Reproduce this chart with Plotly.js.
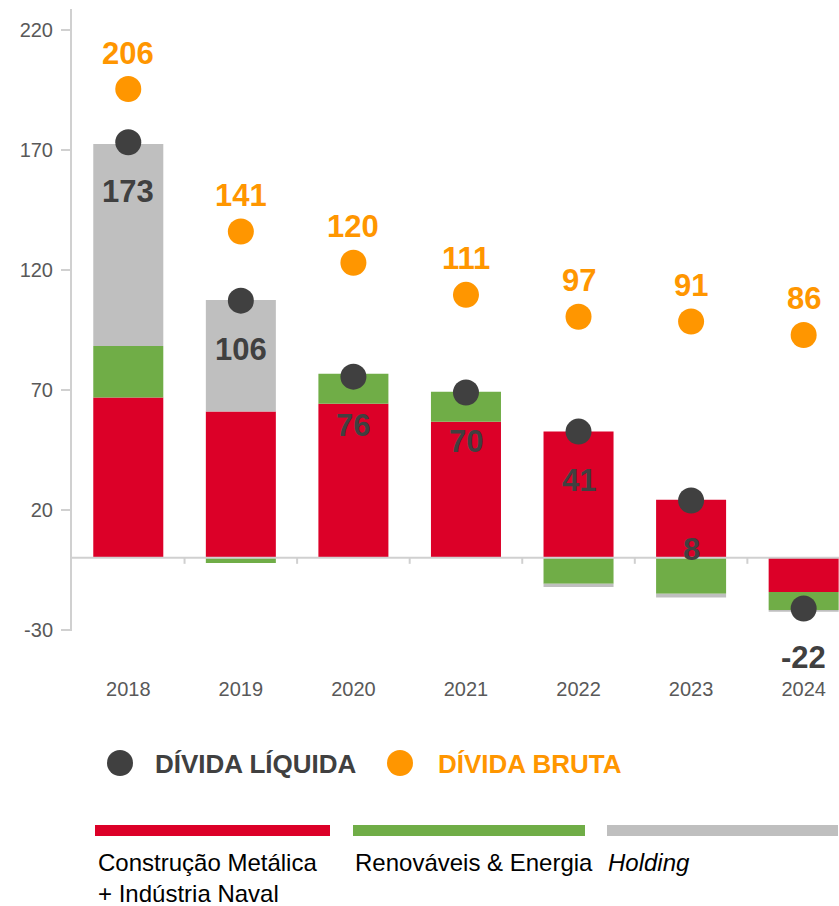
<!DOCTYPE html>
<html>
<head>
<meta charset="utf-8">
<script src="https://cdn.plot.ly/plotly-3.0.1.min.js"></script>
<style>
html,body{margin:0;padding:0;background:#fff;overflow:hidden;}
#chart{width:839px;height:906px;}
</style>
</head>
<body>
<div id="chart"></div>
<script>
// ---- data ----
const years = ['2018', '2019', '2020', '2021', '2022', '2023', '2024'];
const construcaoNaval = [66.8, 61, 64.2, 56.7, 52.6, 24.2, -14.2];
const renovaveisEnergia = [21.5, -2.2, 12.5, 12.5, -10.8, -15, -7.5];
const holdingValues = [84.2, 46.5, 0, 0, -1.4, -1.5, -0.8];
const netDebtLabels = [173, 106, 76, 70, 41, 8, -22];
const netDebtMarkers = [173.2, 107.2, 75.5, 68.9, 52.6, 23.9, -21.1];
const grossDebtLabels = [206, 141, 120, 111, 97, 91, 86];
const grossDebtMarkers = [195.4, 136, 123, 109.6, 100.5, 98.5, 92.9];
const yTicks = [220, 170, 120, 70, 20, -30];
const seriesNames = ['Construção Metálica<br>+ Indústria Naval', 'Renováveis & Energia', '<i>Holding</i>'];
const pointNames = ['DÍVIDA LÍQUIDA', 'DÍVIDA BRUTA'];

// ---- styles ----
const RED = '#DC0028', GREEN = '#70AD47', GRAY = '#BFBFBF', DARK = '#404040', ORANGE = '#FF9600';
const FONT = 'Liberation Sans, Arial, sans-serif';
const W = 839, H = 906, ML = 72, MR = 0, MT = 9, MB = 275;
const PW = W - ML - MR, PH = H - MT - MB;
const px = x => (x - ML) / PW;
const py = y => (H - MB - y) / PH;

const barTrace = (vals, color, name) => ({
  type: 'bar', x: years, y: vals, name: name,
  marker: {color: color, line: {width: 0}}, hoverinfo: 'skip'
});

const traces = [
  barTrace(construcaoNaval, RED, 'Construção'),
  barTrace(renovaveisEnergia, GREEN, 'Renováveis'),
  barTrace(holdingValues, GRAY, 'Holding'),
  {type: 'scatter', mode: 'markers', x: years, y: grossDebtMarkers,
   marker: {color: ORANGE, size: 26, line: {width: 0}}, hoverinfo: 'skip'},
  {type: 'scatter', mode: 'markers', x: years, y: netDebtMarkers,
   marker: {color: DARK, size: 26, line: {width: 0}}, hoverinfo: 'skip'}
];

const annotations = [];
years.forEach((yr, i) => {
  // category index used as x so the year strings are not read as numbers
  annotations.push({x: i, y: grossDebtMarkers[i], xref: 'x', yref: 'y', text: String(grossDebtLabels[i]),
    showarrow: false, yshift: 36, yanchor: 'middle', xanchor: 'center',
    font: {family: FONT, size: 31, color: ORANGE, weight: 'bold'}});
  annotations.push({x: i, y: netDebtMarkers[i], xref: 'x', yref: 'y', text: String(netDebtLabels[i]),
    showarrow: false, yshift: -49, yanchor: 'middle', xanchor: 'center',
    font: {family: FONT, size: 31, color: DARK, weight: 'bold'}});
});

const shapes = [];
// zero line above bars
shapes.push({type: 'line', xref: 'paper', yref: 'y', x0: 0, x1: 1, y0: 0, y1: 0,
  line: {color: '#D0D0D0', width: 2}, layer: 'above'});
// category boundary ticks on the zero line
for (let i = 0; i < years.length - 1; i++) {
  shapes.push({type: 'line', xref: 'x', yref: 'y', x0: i + 0.5, x1: i + 0.5, y0: 0, y1: -2.5,
    line: {color: '#D0D0D0', width: 2}, layer: 'above'});
}

// legend: points
const legendPts = [{cx: 120, color: DARK, tx: 153}, {cx: 400, color: ORANGE, tx: 436}];
legendPts.forEach((p, i) => {
  shapes.push({type: 'circle', xref: 'paper', yref: 'paper',
    x0: px(p.cx - 13), x1: px(p.cx + 13), y0: py(763 + 13), y1: py(763 - 13),
    fillcolor: p.color, line: {width: 0}});
  annotations.push({xref: 'paper', yref: 'paper', x: px(p.tx), y: py(764), xanchor: 'left', yanchor: 'middle',
    text: pointNames[i], showarrow: false,
    font: {family: FONT, size: 26, color: p.color, weight: 'bold'}});
});

// legend: series bars
const legendBars = [{x0: 95, x1: 330, color: RED, tx: 96, cy: 877.5}, {x0: 353, x1: 585, color: GREEN, tx: 353, cy: 862},
                    {x0: 607, x1: 838, color: GRAY, tx: 606, cy: 862}];
legendBars.forEach((b, i) => {
  shapes.push({type: 'rect', xref: 'paper', yref: 'paper',
    x0: px(b.x0), x1: px(b.x1), y0: py(836), y1: py(825), fillcolor: b.color, line: {width: 0}});
  annotations.push({xref: 'paper', yref: 'paper', x: px(b.tx), y: py(b.cy), xanchor: 'left', yanchor: 'middle',
    align: 'left', text: seriesNames[i], showarrow: false,
    font: {family: FONT, size: 24, color: '#000000'}});
});

const layout = {
  width: W, height: H,
  margin: {l: ML, r: MR, t: MT, b: MB, pad: 0},
  paper_bgcolor: '#ffffff', plot_bgcolor: '#ffffff',
  showlegend: false,
  barmode: 'relative',
  bargap: 0.378,
  font: {family: FONT},
  xaxis: {
    type: 'category', range: [-0.5, 6.314], fixedrange: true,
    showline: false, showgrid: false, zeroline: false, ticks: '',
    tickfont: {family: FONT, size: 20, color: '#595959'},
    ticklabelstandoff: 44
  },
  yaxis: {
    range: [-30.5, 228.75], fixedrange: true,
    tickvals: yTicks, ticktext: yTicks.map(String),
    showgrid: false, zeroline: false,
    showline: true, linecolor: '#D0D0D0', linewidth: 2,
    ticks: 'outside', ticklen: 9, tickwidth: 2, tickcolor: '#D0D0D0',
    tickfont: {family: FONT, size: 20, color: '#595959'},
    ticklabelstandoff: 4
  },
  shapes: shapes,
  annotations: annotations
};

Plotly.newPlot('chart', traces, layout, {staticPlot: true, displayModeBar: false});
</script>
</body>
</html>
